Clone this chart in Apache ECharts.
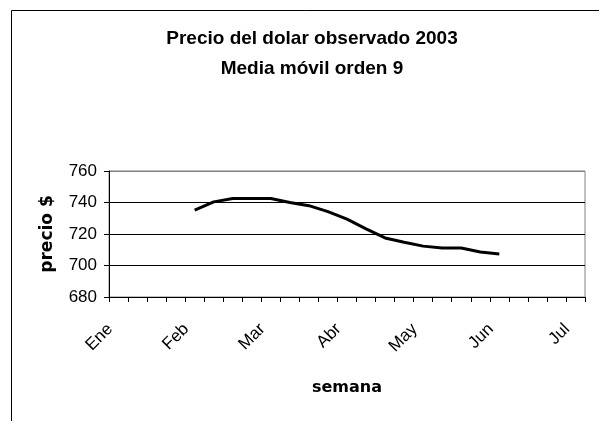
<!DOCTYPE html>
<html>
<head>
<meta charset="utf-8">
<script src="https://cdn.jsdelivr.net/npm/echarts@6/dist/echarts.min.js"></script>
<style>html,body{margin:0;padding:0;background:#fff}#c{width:599px;height:421px}</style>
</head>
<body>
<div id="c"></div>
<script>
// 25 weekly categories; month label shown every 4th week
var weekLabels = ['Ene','Ene','Ene','Ene','Feb','Feb','Feb','Feb','Mar','Mar','Mar','Mar','Abr','Abr','Abr','Abr','May','May','May','May','Jun','Jun','Jun','Jun','Jul'];
// 9-order moving average (null where not defined)
var mediaMovil = [null,null,null,null,735.2,740.4,742.5,742.5,742.5,740.0,738.0,734.2,729.4,723.3,717.5,714.8,712.3,711.1,711.1,708.6,707.3,null,null,null,null];
var yTicks = {min:680, max:760, step:20};

var chart = echarts.init(document.getElementById('c'), null, {renderer:'canvas'});
var FF = 'Liberation Sans, Arial, sans-serif';
var FB = 'DejaVu Sans, Liberation Sans, sans-serif';
chart.setOption({
  animation:false,
  backgroundColor:'#fff',
  title:{
    text:'Precio del dolar observado 2003\nMedia móvil orden 9',
    left:307, top:19, textAlign:'center',
    textStyle:{fontFamily:FF, fontSize:19, fontWeight:'bold', color:'#000', lineHeight:30}
  },
  graphic:[{type:'rect', shape:{x:11.5,y:10.5,width:620,height:440}, style:{fill:null, stroke:'#000', lineWidth:1}, silent:true, z:-1}],
  grid:{left:109, right:14, top:171, bottom:124, show:true, borderColor:'#808080', borderWidth:1, backgroundColor:'transparent'},
  xAxis:{
    type:'category', data:weekLabels, boundaryGap:true,
    name:'semana', nameLocation:'middle', nameGap:83,
    nameTextStyle:{fontFamily:FB, fontSize:16, fontWeight:'bold', color:'#000'},
    axisLine:{show:true, lineStyle:{color:'#000', width:1}},
    axisTick:{show:true, interval:0, length:5, inside:false, lineStyle:{color:'#000'}},
    axisLabel:{interval:3, rotate:45, margin:21, padding:[0,12,0,0], fontFamily:FF, fontSize:17, color:'#000'},
    splitLine:{show:false}
  },
  yAxis:{
    type:'value', min:yTicks.min, max:yTicks.max, interval:yTicks.step,
    name:'precio $', nameLocation:'middle', nameRotate:90, nameGap:53,
    nameTextStyle:{fontFamily:FB, fontSize:17, fontWeight:'bold', color:'#000'},
    axisLine:{show:true, lineStyle:{color:'#000', width:1}},
    axisTick:{show:true, length:5, inside:false, lineStyle:{color:'#000'}},
    axisLabel:{margin:12, fontFamily:FF, fontSize:17, color:'#000'},
    splitLine:{show:true, lineStyle:{color:['#000','#000','#000','#000','#808080'], width:1}}
  },
  series:[{
    type:'line', data:mediaMovil, showSymbol:false, symbol:'none', connectNulls:false,
    lineStyle:{color:'#000', width:3}, itemStyle:{color:'#000'}
  }]
});
</script>
</body>
</html>
